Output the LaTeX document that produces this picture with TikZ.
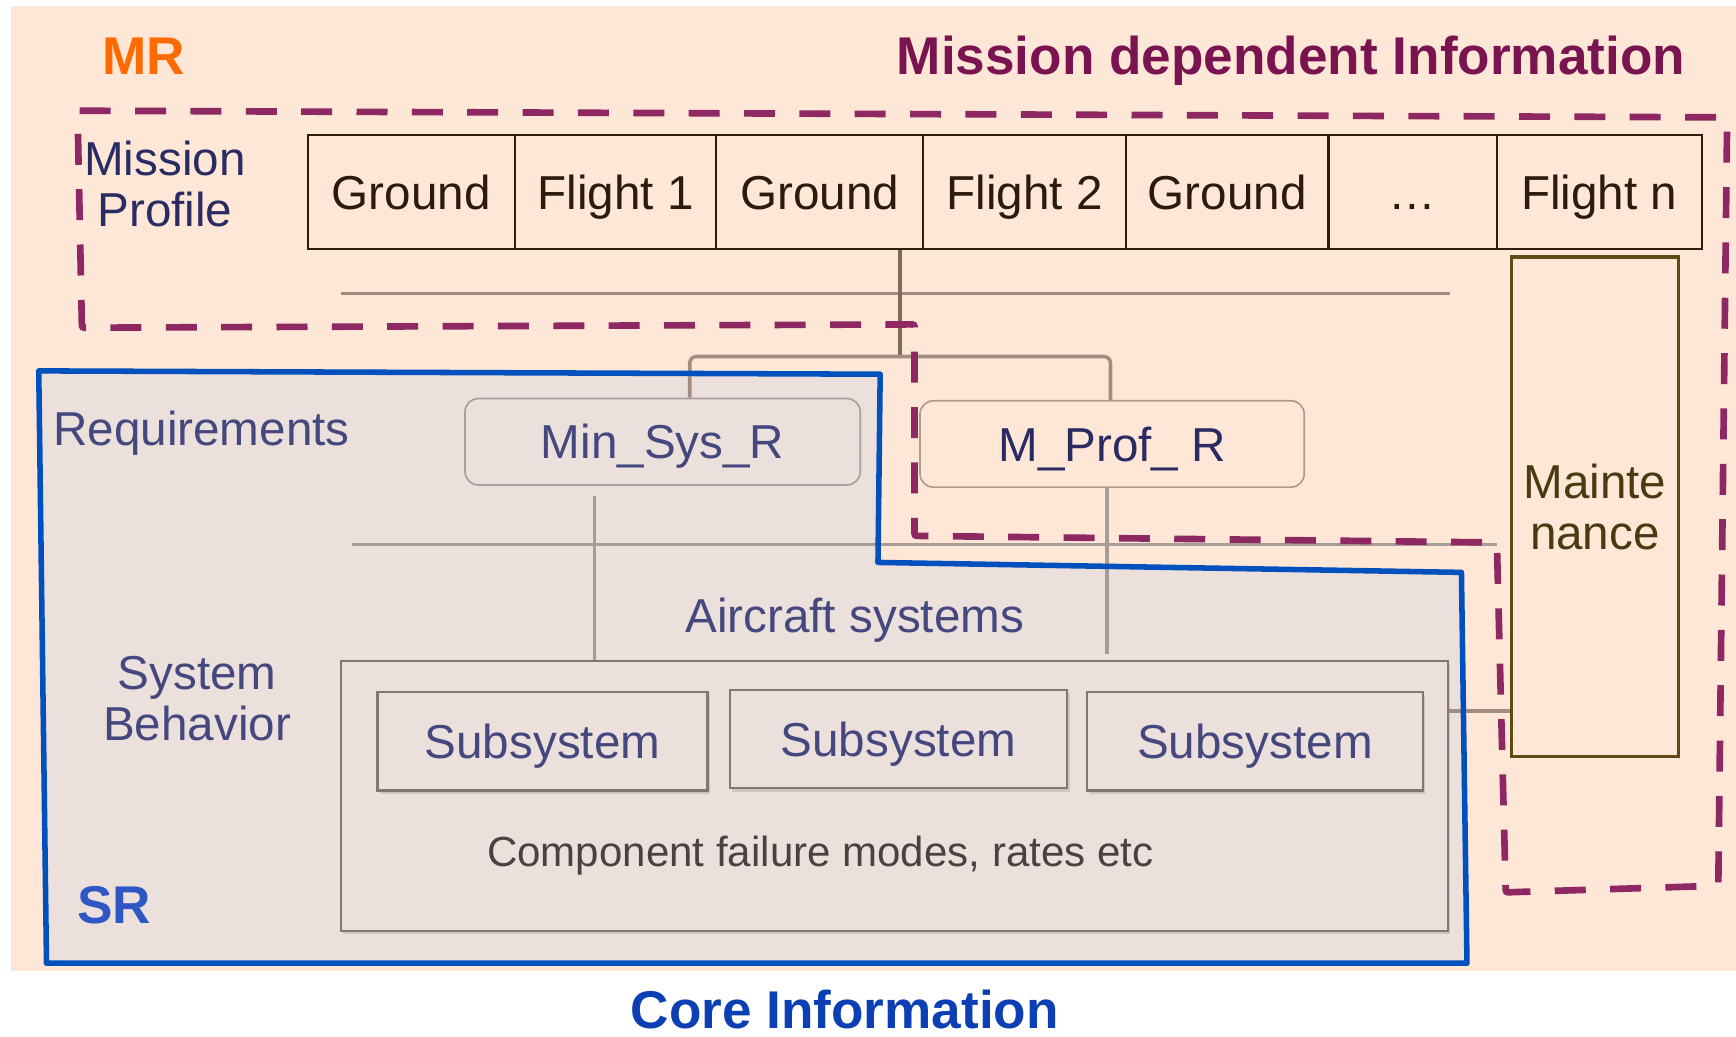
\documentclass[tikz,border=0pt]{standalone}
\usepackage{fontspec}
\setmainfont{Liberation Sans}
\usetikzlibrary{calc,shadows}

\definecolor{bgpeach}{HTML}{FEE7D6}
\definecolor{srfill}{HTML}{EBE0DC}
\definecolor{srblue}{HTML}{0050BE}
\definecolor{mrdashc}{HTML}{8E2862}
\definecolor{mrorange}{HTML}{FF6A00}
\definecolor{midtext}{HTML}{7A1450}
\definecolor{tabline}{HTML}{2E1C0C}
\definecolor{tabtext}{HTML}{2B1A0E}
\definecolor{navy}{HTML}{2B2B64}
\definecolor{slate}{HTML}{45487E}
\definecolor{connc}{HTML}{A38D80}
\definecolor{conndark}{HTML}{7D6B5C}
\definecolor{conngray}{HTML}{A69C98}
\definecolor{sboxline}{HTML}{847672}
\definecolor{comptext}{HTML}{4A4242}
\definecolor{maintline}{HTML}{5E4A12}
\definecolor{mainttext}{HTML}{4A3A10}
\definecolor{srlabel}{HTML}{2F57C4}
\definecolor{coreblue}{HTML}{0B3FB3}
\definecolor{msborder}{HTML}{A8A0A0}
\definecolor{mpborder}{HTML}{B09A88}

\newcommand\fsz[2]{\fontsize{#1}{#2}\selectfont}

\begin{document}
\begin{tikzpicture}[x=1pt,y=-1pt,
  cell/.style={draw=tabline, line width=2pt, minimum height=103pt, inner sep=0pt,
    text=tabtext, font=\fsz{43}{46}, text height=31pt, text depth=0pt},
  rbox/.style={rounded corners=12pt, line width=1.5pt, minimum height=78pt, inner sep=0pt,
    font=\fsz{43}{46}, text height=31pt, text depth=0pt},
  subbox/.style={draw=sboxline, line width=2pt, fill=srfill, minimum height=89pt, inner sep=0pt,
    text=slate, font=\fsz{43}{46}, text height=31pt, text depth=0pt,
    drop shadow={shadow xshift=2pt, shadow yshift=-3pt, opacity=0.12, fill=black}},
  label/.style={inner sep=0pt, font=\fsz{43}{46}},
  conn/.style={draw=connc, line width=3.2pt},
  conngrey/.style={draw=conngray, line width=3.2pt},
  mrzone/.style={draw=mrdashc, line width=6pt, dash pattern=on 28pt off 22pt, rounded corners=2pt},
  srzone/.style={draw=srblue, line width=5pt, line join=round}
]
\useasboundingbox (0,0) rectangle (1568,936);

% backgrounds
\fill[bgpeach] (10,5) rectangle (1568,877);
\fill[srfill] (35,335) -- (795,338) -- (793,508) -- (1320,517) -- (1325,870) -- (42,870) -- cycle;

% mission profile row
\node[cell, minimum width=187pt] (c1) at (371.5,173.5) {Ground};
\node[cell, minimum width=182pt] (c2) at (556,173.5) {Flight 1};
\node[cell, minimum width=187pt] (c3) at (740.5,173.5) {Ground};
\node[cell, minimum width=183pt] (c4) at (925.5,173.5) {Flight 2};
\node[cell, minimum width=183pt] (c5) at (1108.5,173.5) {Ground};
\node[cell, minimum width=152pt] (c6) at (1276,173.5) {…};
\node[cell, minimum width=185pt] (c7) at (1444.5,173.5) {Flight n};

\node[label, text=navy, align=center] (mprofile) at (149,166) {Mission\\Profile};

% time line under the profile
\coordinate (tlA) at (308,265);
\coordinate (tlB) at (1310,265);
\draw[conn] (tlA) -- (tlB);

% requirement boxes
\node[rbox, draw=msborder, fill=srfill, text=slate, minimum width=357pt] (minsys) at (598.5,399) {Min\_Sys\_R};
\node[rbox, draw=mpborder, fill=bgpeach, text=navy, minimum width=347pt] (mprof) at (1004.5,401) {M\_Prof\_ R};

% bracket from the profile to the requirements
\coordinate (hub) at (813,322);
\draw[draw=conndark, line width=3.2pt] (c3.south -| hub) -- (hub);
\draw[conn, rounded corners=6pt] ([xshift=24.5pt]minsys.north) |- (hub) -| ([xshift=-1.5pt]mprof.north);

% aircraft systems
\node[draw=sboxline, line width=2pt, fill=srfill, minimum width=1000pt, minimum height=244pt, inner sep=0pt,
  drop shadow={shadow xshift=2pt, shadow yshift=-3pt, opacity=0.12, fill=black}] (air) at (808,719) {};
\node[subbox, minimum width=298pt] (s1) at (490,669.5) {Subsystem};
\node[subbox, minimum width=305pt] (s2) at (811.5,667.5) {Subsystem};
\node[subbox, minimum width=303pt] (s3) at (1133.5,669.5) {Subsystem};
\node[inner sep=0pt, anchor=base, font=\fsz{38}{40}, text=comptext] (fail) at (741,783) {Component failure modes, rates etc};
\node[label, anchor=base, text=slate] (airlbl) at (772,571) {Aircraft systems};

% separator between requirements and behaviour
\coordinate (mlA) at (318,492);
\coordinate (mlB) at (1352,492);
\draw[conngrey] (mlA) -- (mlB);

% requirement drops
\coordinate (msdrop) at ($(minsys.south)+(-61.5,9)$);
\draw[conngrey] (msdrop) -- (msdrop |- air.north);
\coordinate (mpdrop) at ($(mprof.south)+(-4.5,0)$);
\draw[conngrey] (mpdrop) -- ($(mpdrop |- air.north)+(0,-5)$);

% maintenance
\node[draw=maintline, line width=3pt, minimum width=151pt, minimum height=451pt, inner sep=0pt,
  text=mainttext, align=center, font=\fsz{43}{46}] (maint) at (1440.5,457.5) {Mainte\\nance};
\coordinate (mc) at (0,642);
\draw[conn] (air.east |- mc) -- (maint.west |- mc);

% side labels
\node[label, anchor=base, text=slate] (req) at (182,402) {Requirements};
\node[label, text=slate, align=center] (sysbeh) at (178,631) {System\\Behavior};

% zones
\draw[mrzone] (70,100) -- (1560,106) -- (1552,800) -- (1360,806) -- (1352,490) -- (826,484) -- (826,293) -- (74,296) -- cycle;
\draw[srzone] (35,335) -- (795,338) -- (793,508) -- (1320,517) -- (1325,870) -- (42,870) -- cycle;

% titles
\node[inner sep=0pt, anchor=base west, font=\bfseries\fsz{48}{50}, text=mrorange] (mr) at (92,67) {MR};
\node[inner sep=0pt, anchor=base, font=\bfseries\fsz{48}{50}, text=midtext] (mdi) at (1166,67) {Mission dependent Information};
\node[inner sep=0pt, anchor=base, font=\bfseries\fsz{48}{50}, text=srlabel] (sr) at (103,834) {SR};
\node[inner sep=0pt, anchor=base, font=\bfseries\fsz{48}{50}, text=coreblue] (core) at (763,929) {Core Information};
\end{tikzpicture}
\end{document}
